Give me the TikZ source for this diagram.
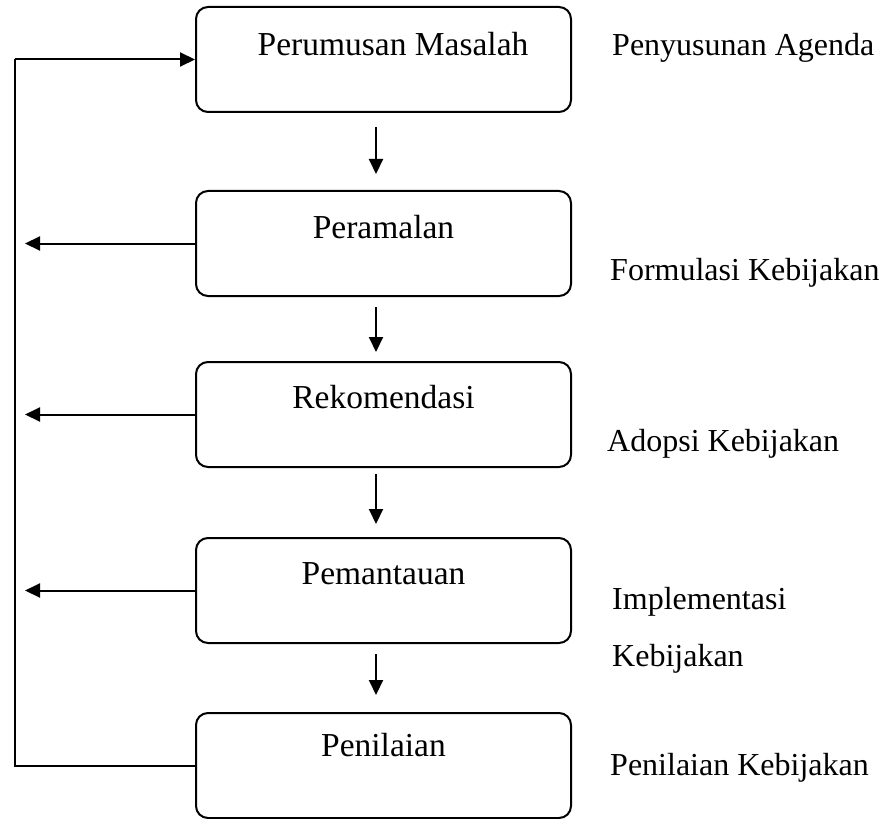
\documentclass[tikz,border=0pt]{standalone}
\usepackage{fontspec}
\setmainfont{Liberation Serif}
\usetikzlibrary{arrows.meta}
\begin{document}
\begin{tikzpicture}[x=1pt,y=-1pt,
  stagebox/.style={draw,line width=2pt,rounded corners=12pt,minimum width=375pt,minimum height=105pt,inner sep=0pt},
  boxtext/.style={font=\fontsize{33.5}{40}\selectfont,anchor=base,inner sep=0pt},
  sidetext/.style={font=\fontsize{32}{38}\selectfont,anchor=base west,inner sep=0pt},
  conn/.style={line width=2pt},
  arr/.style={line width=2pt,-{Triangle[length=15pt,width=14pt]}}]
\useasboundingbox (0,0) rectangle (890,818);
% boxes
\node[stagebox] (b1) at (383.5,59.5) {};
\node[stagebox] (b2) at (383.5,243.5) {};
\node[stagebox] (b3) at (383.5,414.5) {};
\node[stagebox] (b4) at (383.5,590.5) {};
\node[stagebox] (b5) at (383.5,765.5) {};
% box texts
\node[boxtext] (t1) at (393,56) {Perumusan Masalah};
\node[boxtext] (t2) at (383.5,238) {Peramalan};
\node[boxtext] (t3) at (383.5,408) {Rekomendasi};
\node[boxtext] (t4) at (383.5,584) {Pemantauan};
\node[boxtext] (t5) at (383.5,756) {Penilaian};
% side labels
\node[sidetext] (s1) at (612,56) {Penyusunan Agenda};
\node[sidetext] (s2) at (610,280) {Formulasi Kebijakan};
\node[sidetext] (s3) at (607,451) {Adopsi Kebijakan};
\node[sidetext] (s4a) at (612,609) {Implementasi};
\node[sidetext] (s4b) at (612,666) {Kebijakan};
\node[sidetext] (s5) at (610,775) {Penilaian Kebijakan};
% vertical arrows
\draw[arr,shorten <=14pt,shorten >=16pt] ([xshift=-7.5pt]b1.south) -- ([xshift=-7.5pt]b2.north);
\draw[arr,shorten <=10pt,shorten >=9pt] ([xshift=-7.5pt]b2.south) -- ([xshift=-7.5pt]b3.north);
\draw[arr,shorten <=6pt,shorten >=13pt] ([xshift=-7.5pt]b3.south) -- ([xshift=-7.5pt]b4.north);
\draw[arr,shorten <=10pt,shorten >=17pt] ([xshift=-7.5pt]b4.south) -- ([xshift=-7.5pt]b5.north);
% left arrows
\coordinate (l2) at (25,243.5);
\coordinate (l3) at (25,414.5);
\coordinate (l4) at (25,590.5);
\draw[arr] (b2.west) -- (l2);
\draw[arr] (b3.west) -- (l3);
\draw[arr] (b4.west) -- (l4);
% feedback loop
\coordinate (fb) at (15,765.5);
\draw[conn] (b5.west) -- (fb) -- (fb |- b1.west);
\draw[arr] (fb |- b1.west) -- (b1.west);
\end{tikzpicture}
\end{document}
